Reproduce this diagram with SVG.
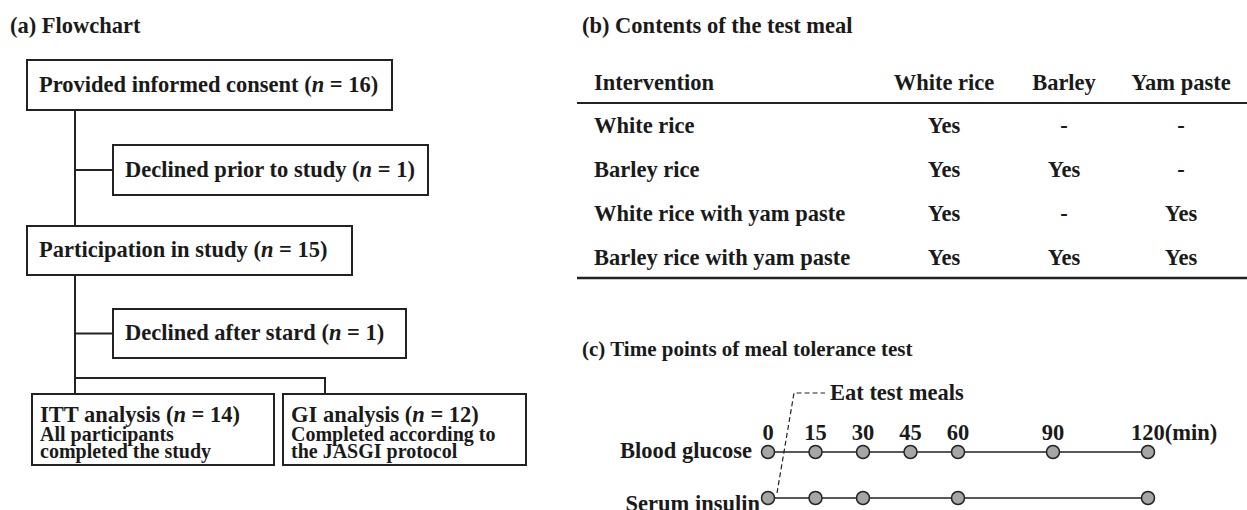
<svg xmlns="http://www.w3.org/2000/svg" width="1247" height="510" viewBox="0 0 1247 510">
<style>
text{font-family:"Liberation Serif","Times New Roman",serif;font-weight:bold;fill:#1a1a1a;font-size:22.5px}
.sub{font-size:20px}
.box{fill:#fff;stroke:#222;stroke-width:2}
.ln{fill:none;stroke:#222;stroke-width:2}
.c{text-anchor:middle}
.tl{fill:none;stroke:#222;stroke-width:1.5}
.dot{fill:#a6a6a6;stroke:#222;stroke-width:1.5}
.dash{fill:none;stroke:#222;stroke-width:1.2;stroke-dasharray:5,3}
</style>
<rect width="1247" height="510" fill="#fff"/>
<text x="10" y="33">(a) Flowchart</text>
<g id="connectors">
<path class="ln" d="M75,110V226M75,170H113M75,275V394M75,333.5H113M75,378H325V394"/>
</g>
<g id="n1"><rect class="box" x="27" y="60" width="365" height="50"/><text x="39" y="92">Provided informed consent (<tspan font-style="italic">n</tspan> = 16)</text></g>
<g id="n2"><rect class="box" x="113" y="145" width="315" height="50"/><text x="125" y="177">Declined prior to study (<tspan font-style="italic">n</tspan> = 1)</text></g>
<g id="n3"><rect class="box" x="27" y="226" width="325" height="49"/><text x="39" y="257">Participation in study (<tspan font-style="italic">n</tspan> = 15)</text></g>
<g id="n4"><rect class="box" x="113" y="309" width="293" height="49"/><text x="125" y="340">Declined after stard (<tspan font-style="italic">n</tspan> = 1)</text></g>
<g id="n5"><rect class="box" x="32" y="394" width="242" height="71"/><text x="40" y="422">ITT analysis (<tspan font-style="italic">n</tspan> = 14)</text><text class="sub" x="40" y="441">All participants</text><text class="sub" x="40" y="458">completed the study</text></g>
<g id="n6"><rect class="box" x="283" y="394" width="243" height="71"/><text x="291" y="422">GI analysis (<tspan font-style="italic">n</tspan> = 12)</text><text class="sub" x="291" y="441">Completed according to</text><text class="sub" x="291" y="458">the JASGI protocol</text></g>

<g id="table">
<text x="582" y="33">(b) Contents of the test meal</text>
<text x="594" y="90">Intervention</text>
<text class="c" x="944" y="90">White rice</text>
<text class="c" x="1064" y="90">Barley</text>
<text class="c" x="1181" y="90">Yam paste</text>
<path d="M577,103H1247" stroke="#222" stroke-width="2"/>
<text x="594" y="133">White rice</text><text class="c" x="944" y="133">Yes</text><text class="c" x="1064" y="133">-</text><text class="c" x="1181" y="133">-</text>
<text x="594" y="177">Barley rice</text><text class="c" x="944" y="177">Yes</text><text class="c" x="1064" y="177">Yes</text><text class="c" x="1181" y="177">-</text>
<text x="594" y="221">White rice with yam paste</text><text class="c" x="944" y="221">Yes</text><text class="c" x="1064" y="221">-</text><text class="c" x="1181" y="221">Yes</text>
<text x="594" y="265">Barley rice with yam paste</text><text class="c" x="944" y="265">Yes</text><text class="c" x="1064" y="265">Yes</text><text class="c" x="1181" y="265">Yes</text>
<path d="M577,278H1247" stroke="#222" stroke-width="2.5"/>
</g>

<g id="timeline">
<text x="582" y="356" style="font-size:21px">(c) Time points of meal tolerance test</text>
<path class="dash" d="M777,493L794,393H825"/>
<text x="830" y="400">Eat test meals</text>
<text class="c" x="768" y="440">0</text>
<text class="c" x="815.5" y="440">15</text>
<text class="c" x="863" y="440">30</text>
<text class="c" x="910.5" y="440">45</text>
<text class="c" x="958" y="440">60</text>
<text class="c" x="1053" y="440">90</text>
<text x="1131" y="440">120(min)</text>
<text x="752" y="458" text-anchor="end">Blood glucose</text>
<text x="760" y="511" text-anchor="end">Serum insulin</text>
<path class="tl" d="M768,452H1148M768,498H1148"/>
<g id="bg">
<circle class="dot" cx="768" cy="452" r="6.5"/><circle class="dot" cx="815.5" cy="452" r="6.5"/><circle class="dot" cx="863" cy="452" r="6.5"/><circle class="dot" cx="910.5" cy="452" r="6.5"/><circle class="dot" cx="958" cy="452" r="6.5"/><circle class="dot" cx="1053" cy="452" r="6.5"/><circle class="dot" cx="1148" cy="452" r="6.5"/>
</g>
<g id="si">
<circle class="dot" cx="768" cy="498" r="6.5"/><circle class="dot" cx="815.5" cy="498" r="6.5"/><circle class="dot" cx="863" cy="498" r="6.5"/><circle class="dot" cx="958" cy="498" r="6.5"/><circle class="dot" cx="1148" cy="498" r="6.5"/>
</g>
</g>
</svg>
